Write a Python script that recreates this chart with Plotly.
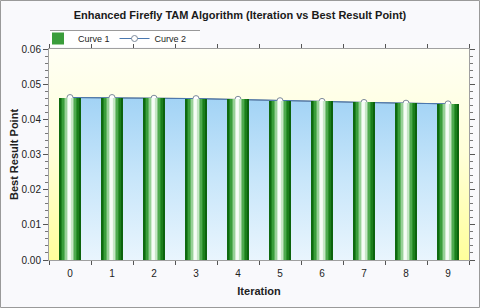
import plotly.graph_objects as go
import base64

# ---- data ----
iterations = ["0", "1", "2", "3", "4", "5", "6", "7", "8", "9"]
curve1 = [0.0462, 0.0462, 0.0460, 0.0459, 0.0457, 0.0453, 0.0451, 0.0448, 0.0446, 0.0444]
curve2 = [0.0462, 0.0462, 0.0460, 0.0459, 0.0457, 0.0453, 0.0451, 0.0448, 0.0446, 0.0444]
y_ticks = [0.00, 0.01, 0.02, 0.03, 0.04, 0.05, 0.06]

title = "Enhanced Firefly TAM Algorithm (Iteration vs Best Result Point)"

W, H = 480, 308
ML, MR, MT, MB = 49, 11, 49, 48
PW, PH = W - ML - MR, H - MT - MB
Y_RANGE = [0, 0.06]
X_RANGE = [-0.5, 9.5]

def px_x(p):
    return (p - ML) / PW

def px_y(p):
    return (H - MB - p) / PH

fig = go.Figure()

# Curve 2 filled area (behind bars)
fig.add_trace(go.Scatter(
    x=iterations, y=curve2, mode="lines", fill="tozeroy",
    line=dict(color="#6a7888", width=1),
    fillgradient=dict(type="vertical",
                      colorscale=[[0, "#e9f5fd"], [0.5, "#c8e6fa"], [1, "#a2d3f5"]]),
    showlegend=False, hoverinfo="skip",
))
# Curve 2 line + markers (legend entry)
fig.add_trace(go.Scatter(
    x=iterations, y=curve2, mode="lines+markers", name="Curve 2",
    line=dict(color="#4a78b0", width=1),
    marker=dict(symbol="circle", size=6, color="white",
                line=dict(color="#7d8a9a", width=1)),
    legendrank=2,
))

# Curve 1: cylindrical gradient bars built from strips (on overlaying axes so they sit above the area)
strip_colors = ["#0e6a10", "#1f8421", "#3a9d3b", "#62b562", "#98d098", "#d0ebd0",
                "#f6fcf6", "#f0f9f0", "#c6e6c6", "#86c786", "#4ea94f", "#2c932d",
                "#1a7e1b", "#0b630d"]
n = len(strip_colors)
bar_w = 0.5
sw = bar_w / n
for i, c in enumerate(strip_colors):
    fig.add_trace(go.Bar(
        x=iterations, y=curve1, name="Curve 1",
        xaxis="x2", yaxis="y2",
        width=sw * 1.25, offset=-bar_w / 2 + i * sw,
        marker=dict(color=c, line=dict(width=0)),
        showlegend=(i == 2), legendrank=1, hoverinfo="skip",
    ))

# background gradient image for plot area
svg = ('<svg xmlns="http://www.w3.org/2000/svg" width="100" height="100" preserveAspectRatio="none">'
       '<defs><linearGradient id="g" x1="0" y1="0" x2="0" y2="1">'
       '<stop offset="0" stop-color="#fffff4"/><stop offset="0.5" stop-color="#ffffd8"/>'
       '<stop offset="1" stop-color="#ffff9c"/></linearGradient></defs>'
       '<rect width="100" height="100" fill="url(#g)"/></svg>')
src = "data:image/svg+xml;base64," + base64.b64encode(svg.encode()).decode()

fig.update_layout(
    width=W, height=H,
    margin=dict(l=ML, r=MR, t=MT, b=MB, autoexpand=False),
    paper_bgcolor="#f9f9fc",
    plot_bgcolor="rgba(0,0,0,0)",
    font=dict(family="Liberation Sans, Arial, sans-serif", size=10, color="#222222"),
    title=dict(text="<b>" + title + "</b>", x=0.5, xref="container", xanchor="center",
               y=1 - 15 / H, yanchor="middle",
               font=dict(size=11, color="#1a1a1a")),
    barmode="overlay",
    bargap=0,
    legend=dict(orientation="h", x=px_x(38), xanchor="left", y=px_y(38.5), yanchor="middle",
                bgcolor="rgba(255,255,255,0)", borderwidth=0, font=dict(size=9, color="#222222"),
                itemwidth=30, tracegroupgap=0, traceorder="normal"),
    images=[dict(source=src, xref="paper", yref="paper", x=0, y=1, sizex=1, sizey=1,
                 xanchor="left", yanchor="top", sizing="stretch", layer="below")],
    shapes=[
        dict(type="rect", xref="paper", yref="paper", x0=px_x(50), x1=px_x(200),
             y0=px_y(47), y1=px_y(30.5), fillcolor="white", line=dict(width=0),
             layer="below"),
        dict(type="line", xref="paper", yref="paper", x0=px_x(50), x1=px_x(200),
             y0=px_y(30.5), y1=px_y(30.5), line=dict(color="#9a9a9a", width=1)),
        dict(type="rect", xref="paper", yref="paper", x0=px_x(0.5), x1=px_x(W - 0.5),
             y0=px_y(H - 0.5), y1=px_y(0.5), line=dict(color="#9a9a9a", width=1),
             layer="below"),
    ],
    xaxis=dict(
        type="category", range=X_RANGE, automargin=False,
        title=dict(text="<b>Iteration</b>", font=dict(size=11, color="#222222"), standoff=9),
        tickson="boundaries", ticks="outside", ticklen=4, tickcolor="#555555",
        ticklabelstandoff=4,
        showline=True, linecolor="#a0a0a0", linewidth=1, mirror="allticks",
        showgrid=False, tickfont=dict(size=10, color="#222222"),
    ),
    yaxis=dict(
        range=Y_RANGE, tickvals=y_ticks, tickformat=".2f", automargin=False,
        title=dict(text="<b>Best Result Point</b>", font=dict(size=11, color="#222222"), standoff=0),
        ticks="outside", ticklen=5, tickcolor="#555555",
        minor=dict(dtick=0.002, ticks="outside", ticklen=3, tickcolor="#777777", showgrid=False),
        showline=True, linecolor="#a0a0a0", linewidth=1, mirror="allticks",
        showgrid=False, zeroline=False, tickfont=dict(size=10, color="#222222"),
    ),
    xaxis2=dict(type="category", range=X_RANGE, overlaying="x", visible=False,
                categoryorder="array", categoryarray=iterations),
    yaxis2=dict(range=Y_RANGE, overlaying="y", visible=False),
)

fig.write_html("out.html", config={"displayModeBar": False},
               post_script="document.body.style.margin='0px';")
